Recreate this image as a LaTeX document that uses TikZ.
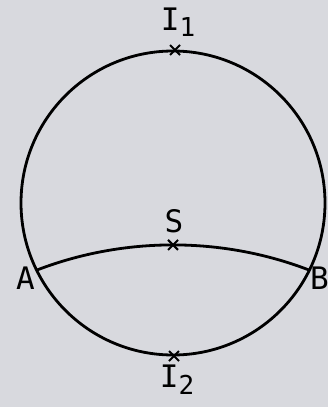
\documentclass[tikz,border=0pt]{standalone}
\usepackage{fontspec}
\setmonofont{DejaVu Sans Mono}
\usetikzlibrary{positioning, shapes.misc}
\definecolor{paper}{RGB}{216,217,222}
\newcommand{\sub}[1]{\raisebox{-0.4ex}{\fontsize{26}{26}\selectfont #1}}

\begin{document}
\begin{tikzpicture}[
    x=1pt, y=-1pt,
    curve/.style={line width=2.8pt},
    tick/.style={cross out, draw, line width=2pt, minimum size=8pt, inner sep=0pt},
    lbl/.style={font=\fontsize{31}{31}\ttfamily, inner sep=0pt}
]
\fill[paper] (0,0) rectangle (328,407);
\useasboundingbox (0,0) rectangle (328,407);

\coordinate (o) at (173,203);
\coordinate (A) at (37,270);
\coordinate (B) at (309,270);
\draw[curve] (o) circle[radius=152];
\draw[curve] (A) to[bend left=21, looseness=0.88] node[tick, pos=0.5] (S) {} (B);

\node[tick] (I1) at (175,50) {};
\node[tick] (I2) at (174,356) {};

\node[lbl, above=8pt of I1, xshift=3pt] (t1) {I\sub{1}};
\node[lbl, below=4pt of I2, xshift=3pt] (t2) {I\sub{2}};
\node[lbl, above=7pt of S, xshift=1pt] (ts) {S};
\node[lbl, below left=-3pt and 2pt of A] (ta) {A};
\node[lbl, below right=-3pt and 1pt of B] (tb) {B};
\end{tikzpicture}
\end{document}
